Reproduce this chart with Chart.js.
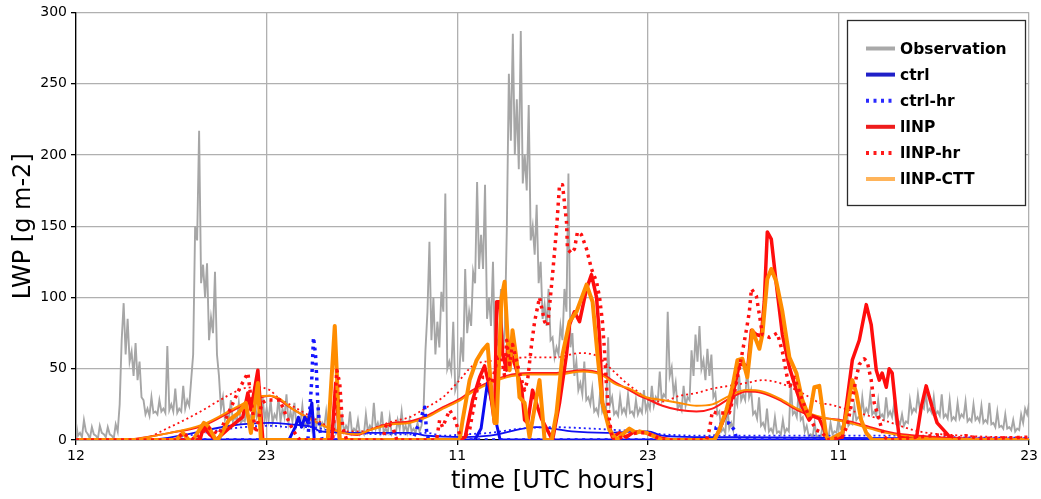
<!DOCTYPE html>
<html>
<head>
<meta charset="utf-8">
<title>LWP</title>
<script src="https://cdn.jsdelivr.net/npm/chart.js@4.4.0/dist/chart.umd.min.js"></script>
<style>
    html, body { margin: 0; padding: 0; background: #fff; }
    #wrap { width: 1041px; height: 499px; }
</style>
</head>
<body>
<div id="wrap"><canvas id="lwpChart" width="1041" height="499"></canvas></div>
<script>
// ===================================
// Data (hours since start, LWP in g m-2)
// ===================================

const xTickLabels = ['12', '23', '11', '23', '11', '23'];
const yTicks = [0, 50, 100, 150, 200, 250, 300];

// observation: peaks sampled every 0.25 h, troughs half-way between them
const obsStart = 0;
const obsStep = 0.25;
const obsValues = [
    12, 5, 14, 4, 9, 3, 10, 4, 9, 3, 11, 25,
    96, 85, 62, 68, 55, 28, 22, 30, 20, 28, 22, 66,
    25, 36, 22, 38, 28, 42, 150, 217, 123, 124, 86, 118,
    45, 30, 18, 28, 16, 26, 14, 24, 17, 28, 20, 30,
    22, 28, 18, 30, 22, 32, 20, 26, 15, 24, 12, 22,
    14, 25, 12, 20, 10, 18, 8, 16, 10, 20, 8, 14,
    6, 18, 10, 26, 12, 20, 8, 16, 6, 14, 20, 10,
    14, 8, 12, 10, 63, 139, 100, 83, 104, 173, 55, 83,
    40, 72, 120, 90, 118, 181, 144, 179, 100, 125, 70, 106,
    80, 257, 285, 239, 287, 200, 235, 150, 165, 125, 95, 106,
    72, 65, 80, 106, 187, 75, 55, 40, 55, 30, 36, 22,
    34, 24, 72, 30, 20, 30, 22, 32, 20, 28, 22, 35,
    26, 38, 30, 48, 32, 90, 51, 40, 25, 38, 30, 63,
    74, 80, 56, 64, 60, 33, 20, 8, 24, 12, 30, 45,
    32, 50, 35, 20, 30, 12, 22, 8, 16, 6, 14, 8,
    40, 20, 35, 16, 10, 4, 12, 3, 10, 5, 12, 6,
    14, 10, 22, 12, 24, 16, 30, 22, 32, 20, 28, 18,
    30, 20, 25, 14, 18, 13, 28, 22, 32, 24, 33, 22,
    30, 20, 32, 18, 28, 16, 26, 18, 27, 15, 25, 16,
    24, 14, 26, 12, 20, 10, 18, 9, 14, 8, 18, 22,
    26
];
const obsTroughs = [
    3, 2, 6, 1, 4, 1, 5, 2, 4, 1, 6, 70,
    60, 55, 45, 42, 30, 18, 17, 19, 18, 20, 19, 21,
    20, 19, 20, 22, 24, 60, 140, 110, 100, 70, 75, 60,
    22, 14, 15, 13, 14, 12, 13, 14, 15, 16, 15, 14,
    14, 12, 15, 13, 16, 12, 13, 10, 12, 9, 10, 8,
    9, 8, 9, 7, 6, 5, 5, 6, 7, 5, 6, 4,
    4, 6, 7, 8, 6, 5, 5, 4, 4, 8, 6, 5,
    6, 5, 6, 20, 90, 70, 60, 65, 90, 50, 48, 35,
    45, 55, 75, 80, 110, 120, 120, 85, 80, 60, 65, 60,
    150, 210, 200, 190, 180, 175, 140, 130, 110, 85, 80, 70,
    58, 60, 70, 90, 65, 45, 35, 32, 28, 25, 20, 18,
    20, 22, 25, 18, 17, 19, 18, 19, 17, 18, 19, 21,
    22, 24, 27, 28, 30, 45, 32, 22, 21, 24, 28, 45,
    55, 50, 42, 45, 30, 18, 6, 5, 8, 7, 25, 28,
    28, 30, 18, 15, 10, 8, 6, 5, 5, 4, 5, 6,
    18, 16, 14, 6, 3, 2, 2, 1, 3, 2, 4, 5,
    8, 9, 10, 11, 14, 15, 18, 19, 18, 17, 16, 15,
    17, 16, 12, 11, 10, 12, 19, 20, 21, 22, 20, 19,
    18, 17, 16, 15, 14, 14, 15, 16, 13, 13, 14, 13,
    12, 12, 11, 9, 9, 8, 8, 7, 6, 7, 12, 18
];

// model runs: [hour, LWP]
const ctrl = [
    [0, 0], [13.4, 0], [13.8, 9], [14.0, 16], [14.2, 9], [14.4, 16], [14.6, 12], [14.85, 26], [15.0, 0],
    [25.1, 0], [25.5, 8], [25.9, 40], [26.1, 30], [26.7, 0], [60, 0]
];

const ctrlHr = [
    [0, 0], [14.6, 0], [14.72, 21], [14.84, 42], [14.95, 72], [15.08, 60], [15.16, 42], [15.22, 26], [15.35, 7], [15.5, 0],
    [21.2, 0], [21.45, 8], [21.64, 12], [21.82, 19], [21.95, 23], [22.08, 5], [22.2, 0],
    [40.2, 0], [40.3, 9], [40.7, 12], [41.1, 12], [41.45, 7], [41.6, 0], [60, 0]
];

const lINP = [
    [0, 0], [7.8, 0], [8.05, 10], [8.4, 4], [8.81, 0], [9.6, 8], [10.25, 14], [10.5, 16], [10.82, 33], [11.01, 21],
    [11.45, 49], [11.76, 0], [16.1, 0], [16.35, 40], [16.6, 0], [24.1, 0], [24.5, 2], [24.97, 28], [25.41, 44],
    [25.72, 52], [26.04, 37], [26.35, 12], [26.48, 97], [26.67, 97], [26.86, 60], [27.11, 49], [27.17, 67],
    [27.42, 60], [27.74, 49], [28.05, 37], [28.24, 14], [28.43, 12], [28.74, 35], [29.06, 23], [29.3, 15],
    [30.0, 0], [30.44, 26], [30.88, 60], [31.07, 81], [31.38, 90], [31.7, 83], [32.14, 106], [32.45, 116],
    [32.77, 100], [32.96, 72], [33.14, 26], [33.46, 14], [33.77, 2], [34.21, 5], [34.65, 2], [35.03, 5],
    [35.47, 6], [35.91, 5], [36.92, 1], [37.5, 0], [40.19, 0], [40.5, 7], [40.94, 19], [41.13, 22], [41.45, 37],
    [41.76, 53], [42.08, 53], [42.26, 47], [42.52, 77], [42.83, 74], [43.14, 73], [43.33, 97], [43.52, 146],
    [43.77, 141], [44.09, 109], [44.47, 74], [44.91, 51], [45.35, 35], [45.72, 23], [46.16, 14], [46.35, 17],
    [46.79, 15], [47.11, 7], [47.3, 0], [48.24, 2], [48.87, 56], [49.31, 70], [49.75, 95], [50.06, 81],
    [50.38, 49], [50.57, 42], [50.75, 47], [51.01, 37], [51.19, 50], [51.38, 47], [51.64, 19], [51.82, 2],
    [52.89, 0], [53.21, 23], [53.52, 38], [53.9, 23], [54.21, 12], [54.78, 5], [55.16, 0], [60, 0]
];

const lINPHr = [
    [0, 0], [6.3, 0], [6.73, 5], [7.11, 2], [7.5, 0], [8.3, 9], [8.99, 4], [10.25, 35], [10.57, 42], [10.82, 47],
    [11.13, 19], [11.32, 5], [11.7, 26], [12.01, 28], [12.39, 28], [12.83, 28], [13.27, 16], [13.65, 7], [14.09, 0],
    [16.16, 0], [16.42, 49], [16.6, 40], [16.79, 9], [17.04, 0], [19.3, 0], [19.56, 12], [19.94, 9], [20.2, 0],
    [22.7, 0], [22.89, 14], [23.08, 9], [23.52, 21], [23.84, 15], [24.15, 4], [24.34, 0], [24.78, 7], [24.97, 19],
    [25.28, 37], [25.6, 44], [25.91, 44], [26.2, 40], [26.54, 58], [26.79, 58], [26.98, 45], [27.11, 70],
    [27.3, 53], [27.48, 67], [27.92, 47], [28.24, 35], [28.43, 42], [28.68, 67], [28.87, 83], [29.18, 100],
    [29.5, 83], [29.69, 80], [30.0, 116], [30.25, 148], [30.44, 179], [30.63, 179], [30.88, 153], [30.94, 134],
    [31.19, 131], [31.38, 134], [31.57, 146], [31.82, 144], [32.14, 134], [32.45, 120], [32.77, 111],
    [32.96, 100], [33.14, 83], [33.27, 63], [33.4, 37], [33.58, 14], [33.77, 0], [34.4, 2], [35.28, 5],
    [35.91, 5], [36.92, 0], [39.69, 0], [39.87, 7], [40.06, 20], [40.3, 19], [40.7, 19], [41.13, 19],
    [41.45, 33], [41.57, 40], [41.89, 58], [42.2, 77], [42.39, 90], [42.52, 106], [42.83, 101], [43.02, 88],
    [43.21, 74], [43.65, 72], [44.15, 75], [44.47, 62], [44.72, 47], [44.91, 37], [45.22, 44], [45.41, 38],
    [45.72, 28], [46.16, 16], [46.6, 7], [47.0, 5], [47.3, 0], [48.24, 2], [48.55, 10], [48.87, 28],
    [49.12, 44], [49.31, 53], [49.62, 57], [49.81, 55], [50.06, 42], [50.25, 26], [50.44, 19], [50.69, 9],
    [50.88, 2], [51.2, 0], [54.78, 4], [55.5, 1], [56, 3], [57, 1], [60, 2]
];

const lINPCtt = [
    [0, 0], [6.3, 0], [6.73, 5], [7.1, 0], [7.36, 0], [8.05, 12], [8.3, 10], [8.81, 0], [8.99, 1], [9.62, 14],
    [10.25, 19], [10.69, 26], [11.01, 5], [11.45, 40], [11.64, 0], [15.85, 0], [16.29, 80], [16.6, 0],
    [24.15, 0], [24.34, 14], [24.78, 42], [25.22, 56], [25.6, 63], [25.91, 67], [26.16, 33], [26.35, 12],
    [26.48, 12], [26.79, 100], [26.98, 111], [27.17, 72], [27.3, 49], [27.48, 77], [27.74, 56], [27.92, 30],
    [28.24, 26], [28.55, 2], [29.18, 42], [29.5, 0], [29.94, 0], [30.25, 19], [30.63, 60], [31.07, 83],
    [31.51, 90], [32.14, 109], [32.52, 97], [32.83, 60], [33.14, 26], [33.58, 7], [34.03, 0], [34.4, 4],
    [34.84, 8], [35.28, 5], [35.47, 6], [35.91, 5], [36.92, 0], [40.19, 0], [40.5, 7], [40.94, 21],
    [41.32, 37], [41.64, 56], [41.95, 57], [42.26, 44], [42.58, 77], [43.02, 64], [43.21, 74], [43.52, 113],
    [43.77, 120], [44.09, 111], [44.47, 90], [44.91, 58], [45.35, 47], [45.72, 28], [46.16, 16], [46.48, 37],
    [46.79, 38], [46.98, 23], [47.23, 3], [47.4, 0], [48.24, 5], [48.55, 21], [48.87, 42], [49.12, 33],
    [49.43, 14], [49.75, 5], [50.13, 0], [60, 0]
];

// running means (thin lines)
const ctrlMean = [
    [0, 0], [4.5, 0], [7.0, 4], [9.7, 10], [12.2, 12], [13.5, 11], [14.9, 9], [15.4, 6], [17.4, 5], [19.4, 5],
    [21.0, 5], [22.1, 3], [24.5, 2], [26.04, 3], [28.99, 9], [30.0, 8], [31.2, 6], [33.4, 5], [35.47, 6],
    [36.0, 6], [36.92, 3], [39.0, 2], [42.0, 2], [48.0, 1.5], [60, 1]
];

const ctrlHrMean = [
    [0, 0], [4.5, 0], [7, 3], [9.7, 8], [12.2, 10], [13.5, 9], [14.9, 9], [15.8, 7], [17.4, 5], [19.4, 4],
    [21.0, 4], [22.1, 5], [23.1, 3], [24.5, 4], [26.04, 5], [28.0, 8], [30.0, 9], [32.5, 8], [34.0, 7],
    [35.5, 6], [36.9, 4], [40, 3], [44, 3], [48, 3], [52, 3], [55, 2], [60, 1.5]
];

const lINPMean = [
    [0, 0], [2.8, 0], [5.9, 5], [8.0, 10], [10.1, 22], [11.4, 29], [12.2, 31], [12.8, 28], [13.6, 22], [14.7, 15],
    [15.8, 9], [16.8, 5], [17.7, 3.5], [18.5, 7], [19.9, 12], [21.0, 13], [22.1, 17], [23.1, 23], [24.2, 29],
    [24.97, 35], [27.1, 45], [28.55, 47], [30.25, 47], [31.9, 49], [33.0, 47], [34.0, 40], [34.84, 35],
    [35.47, 31], [35.91, 29], [36.92, 24], [37.99, 21], [39.06, 20], [40.06, 22], [41.13, 29], [42.2, 34],
    [43.2, 33], [44.3, 28], [45.4, 21], [46.6, 16], [47.4, 15], [48.7, 13], [50.0, 9], [51.0, 6], [52.0, 4],
    [54.2, 2], [56, 1], [60, 0.5]
];

const lINPCttMean = [
    [0, 0], [2.8, 0], [5.9, 5], [8.0, 11], [10.1, 23], [11.4, 30], [12.2, 31], [12.8, 29], [13.6, 22], [14.7, 15],
    [15.8, 9], [16.8, 5], [17.7, 4], [18.5, 7], [19.9, 11], [21.0, 12], [22.1, 16], [23.1, 22], [24.2, 28],
    [25.0, 34], [27.1, 44], [28.55, 46], [30.25, 46], [31.9, 48], [33.0, 46], [34.0, 39], [34.84, 36],
    [35.9, 30], [36.92, 28], [37.99, 26], [39.06, 24], [40.06, 25], [41.13, 31], [42.2, 35], [43.2, 34],
    [44.3, 29], [45.4, 22], [46.6, 17], [47.4, 15], [48.7, 12], [50.0, 8], [51.0, 5], [52.0, 3], [54, 1], [60, 0]
];

const lINPHrMean = [
    [0, 0], [3.8, 0], [5.9, 9], [8.0, 21], [9.06, 28], [10.5, 36], [11.4, 37], [12.2, 35], [12.8, 29], [13.6, 24],
    [14.7, 17], [15.8, 10], [16.8, 6], [17.9, 6], [18.9, 9], [19.9, 13], [21.0, 16], [22.1, 23], [23.1, 30],
    [24.15, 42], [24.97, 52], [26.67, 56], [28.55, 58], [30.25, 58], [31.7, 61], [32.77, 59], [33.77, 49],
    [34.65, 40], [35.47, 33], [35.91, 29], [36.92, 27], [37.99, 31], [39.06, 33], [40.06, 36], [41.13, 38],
    [42.2, 40], [43.21, 42], [44.28, 40], [45.35, 35], [46.35, 29], [46.8, 26], [47.42, 25], [48.68, 21],
    [50.8, 14], [53.08, 6], [55.16, 3.5], [59.37, 2], [60, 2]
];

// ===================================
// Helpers
// ===================================

const toPoints = pairs => pairs.map(p => ({ x: p[0], y: p[1] }));

const obsPoints = [];
obsValues.forEach((v, i) => {
    const t = obsStart + i * obsStep;
    obsPoints.push({ x: t, y: v });
    if (i < obsTroughs.length) obsPoints.push({ x: t + obsStep / 2, y: obsTroughs[i] });
});

const FONT = 'DejaVu Sans';
const DOTS = [3, 4.5];
const THIN_DOTS = [2, 3];

function line(label, data, color, width, opts = {}) {
    return Object.assign({
        label: label,
        data: data,
        borderColor: color,
        borderWidth: width,
        pointRadius: 0,
        tension: 0,
        fill: false,
        clip: 0,
        borderCapStyle: 'butt',
        borderJoinStyle: 'round'
    }, opts);
}

// legend inside the plot, with a frame (Chart.js legend can't do this)
const legendItems = [
    { text: 'Observation', color: '#a9a9a9', dash: [] },
    { text: 'ctrl', color: '#2020c8', dash: [] },
    { text: 'ctrl-hr', color: '#2a2aff', dash: DOTS },
    { text: 'lINP', color: '#ee1c1c', dash: [] },
    { text: 'lINP-hr', color: '#ff1a1a', dash: DOTS },
    { text: 'lINP-CTT', color: '#ffb45a', dash: [] }
];

const framedLegend = {
    id: 'framedLegend',
    afterDraw(chart) {
        const ctx = chart.ctx;
        const left = 847.5, top = 20.5, w = 178, h = 185;
        ctx.save();
        ctx.fillStyle = '#fff';
        ctx.fillRect(left, top, w, h);
        ctx.strokeStyle = '#2b2b2b';
        ctx.lineWidth = 1.3;
        ctx.strokeRect(left, top, w, h);

        legendItems.forEach((item, i) => {
            const y = 48.5 + i * 26.1;
            ctx.beginPath();
            ctx.setLineDash(item.dash);
            ctx.lineCap = 'butt';
            ctx.lineWidth = 4;
            ctx.strokeStyle = item.color;
            ctx.moveTo(866, y);
            ctx.lineTo(895, y);
            ctx.stroke();

            ctx.setLineDash([]);
            ctx.fillStyle = '#000';
            ctx.font = 'bold 15.5px "' + FONT + '"';
            ctx.textBaseline = 'middle';
            ctx.textAlign = 'left';
            ctx.fillText(item.text, 900, y + 1);
        });
        ctx.restore();
    }
};

// ===================================
// Chart
// ===================================

const ctx = document.getElementById('lwpChart');

new Chart(ctx, {
    type: 'line',
    data: {
        datasets: [
            line('Observation', obsPoints, '#a6a6a6', 1.9, { order: 20, borderJoinStyle: 'miter' }),

            line('ctrl mean', toPoints(ctrlMean), '#1010f0', 1.8, { order: 15, cubicInterpolationMode: 'monotone' }),
            line('ctrl-hr mean', toPoints(ctrlHrMean), '#2020ff', 1.8, { order: 14, borderDash: THIN_DOTS, cubicInterpolationMode: 'monotone' }),
            line('lINP-hr mean', toPoints(lINPHrMean), '#ff1010', 1.8, { order: 13, borderDash: THIN_DOTS, cubicInterpolationMode: 'monotone' }),
            line('lINP mean', toPoints(lINPMean), '#ff1a1a', 2, { order: 12, cubicInterpolationMode: 'monotone' }),
            line('lINP-CTT mean', toPoints(lINPCttMean), '#ff8c00', 2, { order: 11, cubicInterpolationMode: 'monotone' }),

            line('ctrl', toPoints(ctrl), '#0b0bf0', 3, { order: 8 }),
            line('ctrl-hr', toPoints(ctrlHr), '#1515ff', 3.5, { order: 7, borderDash: DOTS }),
            line('lINP', toPoints(lINP), '#ff0d0d', 3.5, { order: 6 }),
            line('lINP-CTT', toPoints(lINPCtt), '#ff8c00', 4, { order: 5 }),
            line('lINP-hr', toPoints(lINPHr), '#ff1010', 3.5, { order: 4, borderDash: DOTS })
        ]
    },
    options: {
        responsive: false,
        animation: false,
        events: [],
        layout: { padding: { top: 9, right: 11, left: 0, bottom: 0 } },
        plugins: {
            legend: { display: false },
            tooltip: { enabled: false }
        },
        scales: {
            x: {
                type: 'linear',
                min: 0,
                max: 60,
                afterFit: s => { s.height = 59; },
                afterBuildTicks: s => { s.ticks = xTickLabels.map((_, i) => ({ value: i * 12 })); },
                ticks: {
                    autoSkip: false,
                    maxRotation: 0,
                    padding: 3,
                    color: '#000',
                    font: { family: FONT, size: 14 },
                    callback: v => xTickLabels[Math.round(v / 12)]
                },
                grid: { color: '#b0b0b0', lineWidth: 1.3, tickColor: '#000', tickLength: 5 },
                border: { color: '#000', width: 1.3 },
                title: {
                    display: true,
                    text: 'time [UTC hours]',
                    color: '#000',
                    font: { family: FONT, size: 24 },
                    padding: { top: 0, bottom: 3 }
                }
            },
            y: {
                min: 0,
                max: 300,
                afterFit: s => { s.width = 76; },
                afterBuildTicks: s => { s.ticks = yTicks.map(v => ({ value: v })); },
                ticks: {
                    padding: 4,
                    color: '#000',
                    font: { family: FONT, size: 14 }
                },
                grid: { color: '#b0b0b0', lineWidth: 1.3, tickColor: '#000', tickLength: 5 },
                border: { color: '#000', width: 1.3 },
                title: {
                    display: true,
                    text: 'LWP [g m-2]',
                    color: '#000',
                    font: { family: FONT, size: 24 },
                    padding: { top: 9, bottom: 0 }
                }
            }
        }
    },
    plugins: [framedLegend]
});
</script>
</body>
</html>
